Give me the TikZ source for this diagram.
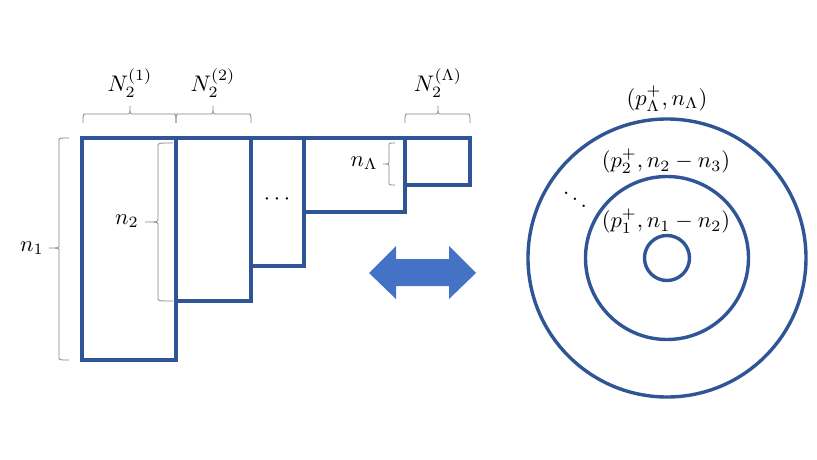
\documentclass[tikz,border=0pt]{standalone}
\definecolor{frame}{HTML}{2F5597}
\definecolor{arrowblue}{HTML}{4472C4}
\definecolor{bracegray}{HTML}{858585}
\newcommand{\lblmath}[1]{\scalebox{2.25}{$#1$}}
% horizontal brace, tip up: x1, x2, xtip, yend, d1 (end to line), d2 (line to tip)
\newcommand{\hbrace}[6]{%
  \draw[brc] (#1,#4) .. controls (#1,{#4-#5}) .. ({#1+3},{#4-#5})
    -- ({#3-3},{#4-#5}) .. controls (#3,{#4-#5}) .. (#3,{#4-#5-#6})
    .. controls (#3,{#4-#5}) .. ({#3+3},{#4-#5})
    -- ({#2-3},{#4-#5}) .. controls (#2,{#4-#5}) .. (#2,#4);}
% vertical brace, tip left: xend, y1, y2, ytip, d1, d2
\newcommand{\vbrace}[6]{%
  \draw[brc] (#1,#2) .. controls ({#1-#5},#2) .. ({#1-#5},{#2+3})
    -- ({#1-#5},{#4-3}) .. controls ({#1-#5},#4) .. ({#1-#5-#6},#4)
    .. controls ({#1-#5},#4) .. ({#1-#5},{#4+3})
    -- ({#1-#5},{#3-3}) .. controls ({#1-#5},#3) .. (#1,#3);}
\tikzset{
  box/.style={draw=frame, line width=3.2pt},
  ring/.style={draw=frame, line width=3.4pt},
  brc/.style={draw=bracegray, line width=0.8pt},
  lbl/.style={inner sep=0pt},
}
\begin{document}
\begin{tikzpicture}[x=1pt, y=-1pt]
\useasboundingbox (0,0) rectangle (817,460);
% rectangles
\draw[box] (82,138) rectangle (176,360);
\draw[box] (176,138) rectangle (251,301);
\draw[box] (251,138) rectangle (304,266);
\draw[box] (304,138) rectangle (405,212);
\draw[box] (405,138) rectangle (470,185);
% braces
\hbrace{83}{176}{130}{123}{9}{8}
\hbrace{176}{251}{213}{123}{9}{8}
\hbrace{405}{470}{438}{123}{9}{8}
\vbrace{69}{138}{360}{248}{10}{10}
\vbrace{173}{143}{301}{222}{15}{13}
\vbrace{395}{143}{185}{164}{6}{6}
% labels
\node[lbl] (N1) at (130,83) {\lblmath{N_2^{(1)}}};
\node[lbl] (N2) at (213,83) {\lblmath{N_2^{(2)}}};
\node[lbl] (NL) at (438,83) {\lblmath{N_2^{(\Lambda)}}};
\node[lbl] (n1) at (32,248) {\lblmath{n_1}};
\node[lbl] (n2) at (127,221) {\lblmath{n_2}};
\node[lbl] (nL) at (364,163) {\lblmath{n_\Lambda}};
\node[lbl] (dots) at (277,199) {\lblmath{\cdots}};
% double arrow
\fill[arrowblue] (369,273) -- (396,246) -- (396,259) -- (449,259) -- (449,246)
  -- (476,273) -- (449,299) -- (449,286) -- (396,286) -- (396,299) -- cycle;
% circles
\coordinate (c) at (667,258);
\draw[ring] (c) circle (139);
\draw[ring] (c) circle (81.5);
\draw[ring] (c) circle (22.5);
\node[lbl] (pL) at (667,99) {\lblmath{(p_\Lambda^+, n_\Lambda)}};
\node[lbl] (p2) at (666,161) {\lblmath{(p_2^+, n_2-n_3)}};
\node[lbl] (p1) at (666,221) {\lblmath{(p_1^+, n_1-n_2)}};
\node[lbl] (dd) at (575,193) {\lblmath{\ddots}};
\end{tikzpicture}
\end{document}
